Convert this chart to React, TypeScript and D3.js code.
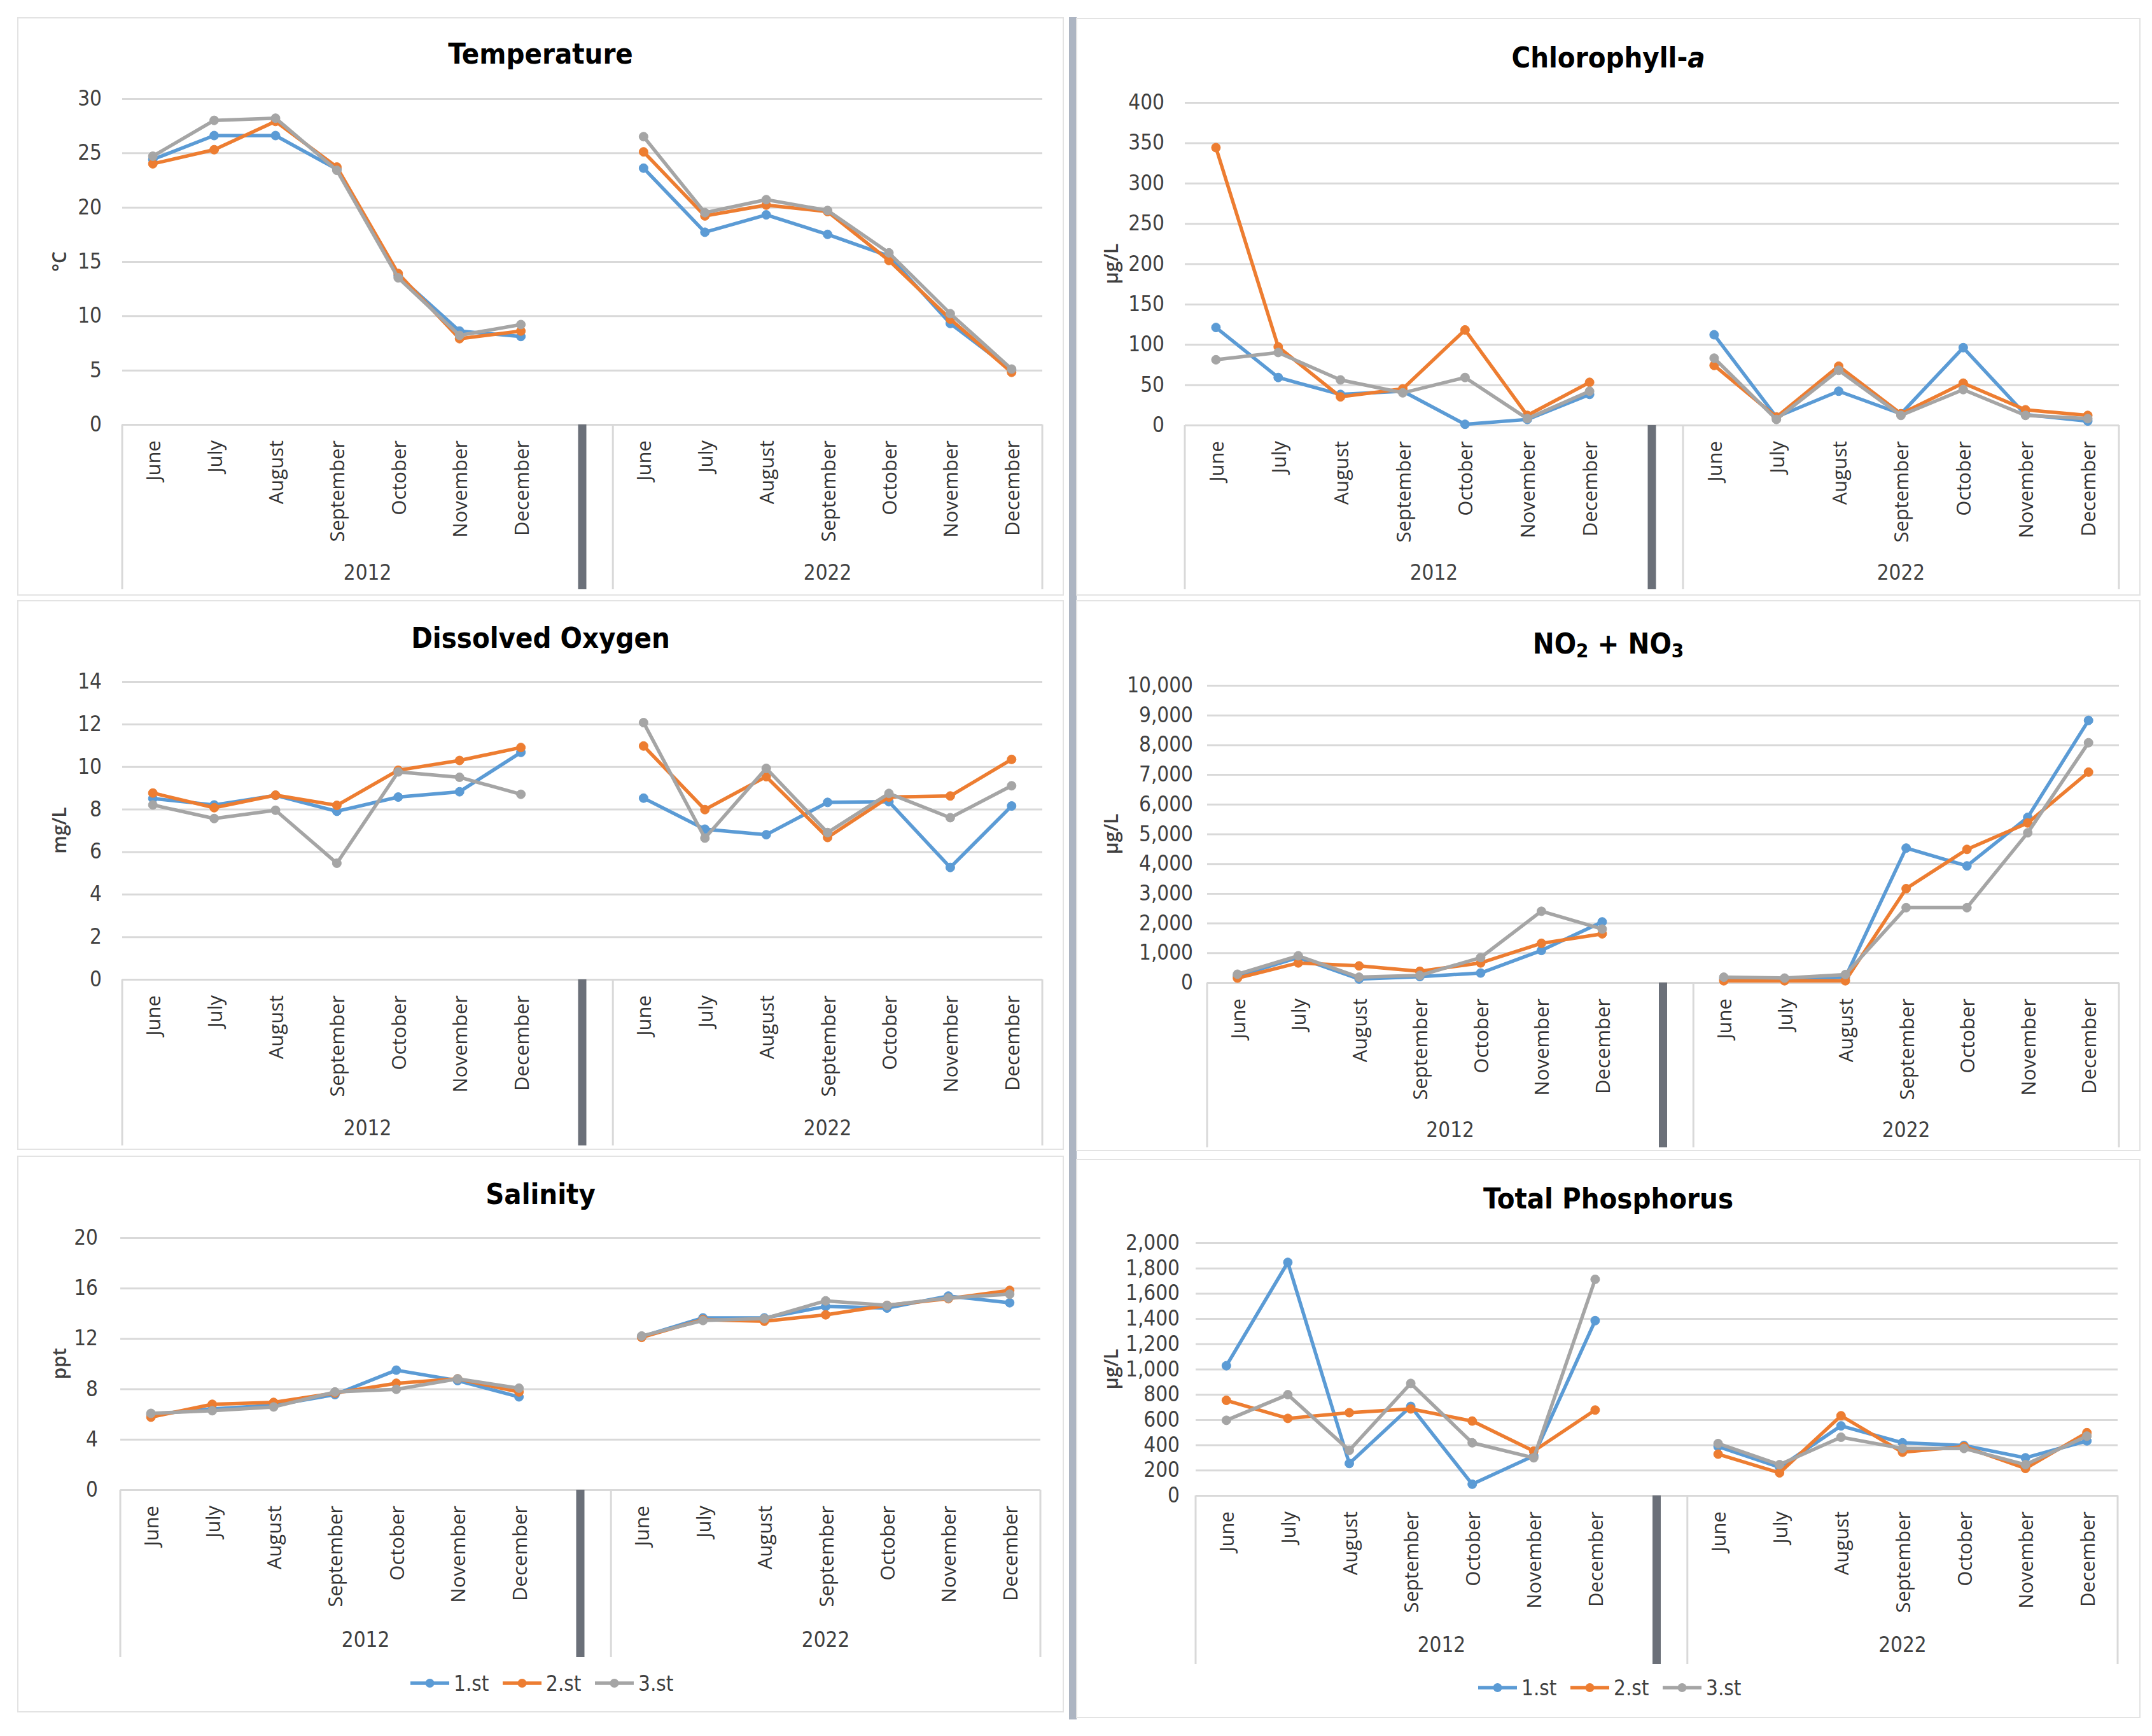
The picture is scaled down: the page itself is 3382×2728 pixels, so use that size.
import * as d3 from "d3";
import { useRef, useEffect } from "react";

const months = ["June", "July", "August", "September", "October", "November", "December"];
const years = ["2012", "2022"];
const stations = ["1.st", "2.st", "3.st"];
const colors = ["#5b9bd5", "#ed7d31", "#a5a5a5"];

// each series: 2012 June..December, then 2022 June..December
const temp1 = [24.4, 26.6, 26.6, 23.5, 13.7, 8.6, 8.1, 23.6, 17.7, 19.3, 17.5, 15.5, 9.3, 5.0];
const temp2 = [24.0, 25.3, 27.9, 23.7, 13.9, 7.9, 8.6, 25.1, 19.2, 20.2, 19.6, 15.1, 9.7, 4.8];
const temp3 = [24.7, 28.0, 28.2, 23.4, 13.5, 8.2, 9.2, 26.5, 19.5, 20.7, 19.7, 15.8, 10.2, 5.1];

const chl1 = [121, 59, 38, 42, 1, 7, 38, 112, 10, 42, 14, 96, 13, 5];
const chl2 = [344, 97, 35, 45, 118, 12, 53, 74, 10, 73, 14, 52, 19, 12];
const chl3 = [81, 90, 56, 40, 59, 8, 42, 83, 7, 68, 12, 44, 12, 8];

const do1 = [8.5, 8.2, 8.65, 7.9, 8.57, 8.82, 10.67, 8.52, 7.06, 6.8, 8.32, 8.35, 5.26, 8.15];
const do2 = [8.76, 8.07, 8.66, 8.18, 9.83, 10.29, 10.9, 10.97, 7.98, 9.53, 6.67, 8.57, 8.62, 10.34];
const do3 = [8.2, 7.56, 7.95, 5.46, 9.75, 9.5, 8.7, 12.07, 6.64, 9.92, 6.9, 8.74, 7.6, 9.1];

const no1 = [220, 840, 120, 200, 320, 1080, 2040, 120, 100, 180, 4525, 3925, 5560, 8820];
const no2 = [150, 660, 560, 380, 660, 1320, 1640, 60, 60, 60, 3160, 4480, 5370, 7080];
const no3 = [280, 900, 180, 240, 840, 2400, 1800, 180, 150, 270, 2520, 2520, 5040, 8070];

const sal1 = [5.97, 6.42, 6.7, 7.55, 9.49, 8.66, 7.37, 12.15, 13.64, 13.64, 14.54, 14.42, 15.37, 14.84];
const sal2 = [5.76, 6.78, 6.93, 7.67, 8.45, 8.8, 7.76, 12.09, 13.5, 13.37, 13.88, 14.63, 15.16, 15.82];
const sal3 = [6.06, 6.27, 6.57, 7.76, 7.97, 8.8, 8.06, 12.2, 13.43, 13.58, 14.99, 14.63, 15.22, 15.52];

const tp1 = [1027, 1845, 253, 705, 89, 313, 1384, 387, 223, 551, 417, 396, 298, 432];
const tp2 = [753, 610, 655, 685, 589, 351, 676, 327, 179, 631, 342, 387, 214, 497];
const tp3 = [595, 798, 357, 887, 417, 298, 1711, 411, 244, 461, 372, 372, 244, 470];

const W = 3382;
const H = 2728;
const narrow = "'Liberation Sans Narrow', 'DejaVu Sans Condensed', 'Liberation Sans', sans-serif";
const sans = "'Open Sans', 'Noto Sans', sans-serif";
const grid = "#d9d9d9";
const small = 33;

const panels = [
  { title: [{ t: "Temperature" }], unit: "°C", max: 30, step: 5, comma: false, pad: 32,
    series: [temp1, temp2, temp3], box: [28, 28, 1671, 935], plot: [192, 1638, 155, 667],
    titleY: 84, yearY: 899, groupBottom: 926, unitX: 92, legendY: null },
  { title: [{ t: "Dissolved Oxygen" }], unit: "mg/L", max: 14, step: 2, comma: false, pad: 32,
    series: [do1, do2, do3], box: [28, 944, 1671, 1806], plot: [192, 1638, 1071, 1539],
    titleY: 1002, yearY: 1772, groupBottom: 1800, unitX: 92, legendY: null },
  { title: [{ t: "Salinity" }], unit: "ppt", max: 20, step: 4, comma: false, pad: 35,
    series: [sal1, sal2, sal3], box: [28, 1817, 1671, 2690], plot: [189, 1635, 1945, 2341],
    titleY: 1876, yearY: 2576, groupBottom: 2604, unitX: 92, legendY: 2645 },
  { title: [{ t: "Chlorophyll-" }, { t: "a", it: true }], unit: "µg/L", max: 400, step: 50, comma: false, pad: 32,
    series: [chl1, chl2, chl3], box: [1692, 29, 3363, 935], plot: [1862, 3330, 161, 668],
    titleY: 90, yearY: 899, groupBottom: 926, unitX: 1745, legendY: null },
  { title: [{ t: "NO" }, { t: "2", sub: true }, { t: " + NO" }, { t: "3", sub: true }], unit: "µg/L", max: 10000, step: 1000, comma: true, pad: 22,
    series: [no1, no2, no3], box: [1692, 944, 3363, 1808], plot: [1897, 3330, 1077, 1544],
    titleY: 1011, yearY: 1775, groupBottom: 1803, unitX: 1745, legendY: null },
  { title: [{ t: "Total Phosphorus" }], unit: "µg/L", max: 2000, step: 200, comma: true, pad: 25,
    series: [tp1, tp2, tp3], box: [1692, 1822, 3363, 2699], plot: [1879, 3328, 1953, 2350],
    titleY: 1883, yearY: 2584, groupBottom: 2615, unitX: 1745, legendY: 2652 },
];

export default function App() {
  const svgRef = useRef(null);

  useEffect(() => {
    const svg = d3.select(svgRef.current);
    svg.selectAll("*").remove();
    svg.attr("width", W).attr("height", H).attr("viewBox", [0, 0, W, H]);

    svg.append("rect").attr("width", W).attr("height", H).attr("fill", "white");

    // column separator
    svg.append("rect")
      .attr("x", 1680).attr("y", 27).attr("width", 12).attr("height", 2675)
      .attr("fill", "#adb5c2");

    const keys = [
      ...months.map(m => years[0] + " " + m),
      "gap",
      ...months.map(m => years[1] + " " + m),
    ];

    panels.forEach(p => {
      const g = svg.append("g");
      const [bx0, by0, bx1, by1] = p.box;
      const [x0, x1, yTop, yBot] = p.plot;

      g.append("rect")
        .attr("x", bx0).attr("y", by0)
        .attr("width", bx1 - bx0).attr("height", by1 - by0)
        .attr("fill", "none").attr("stroke", "#e3e3e3").attr("stroke-width", 2);

      // title
      const title = g.append("text")
        .attr("x", (bx0 + bx1) / 2).attr("y", p.titleY)
        .attr("text-anchor", "middle").attr("dominant-baseline", "central")
        .attr("font-family", narrow).attr("font-weight", "bold")
        .attr("font-size", 45).attr("fill", "#000");
      p.title.forEach((part, i) => {
        const ts = title.append("tspan").text(part.t);
        if (part.it) ts.attr("font-style", "italic");
        if (part.sub) ts.attr("font-size", 31).attr("dy", 11);
        else if (i > 0 && p.title[i - 1].sub) ts.attr("dy", -11);
      });

      const x = d3.scaleBand().domain(keys).range([x0, x1]).padding(0);
      const bw = x.bandwidth();
      const cx = k => x(k) + bw / 2;
      const y = d3.scaleLinear().domain([0, p.max]).range([yBot, yTop]);
      const ticks = d3.range(0, p.max + p.step / 2, p.step);
      const fmt = p.comma ? d3.format(",") : d3.format("d");

      // y axis
      g.append("g")
        .attr("transform", `translate(${x0},0)`)
        .call(d3.axisLeft(y).tickValues(ticks).tickFormat(fmt).tickSize(0).tickPadding(p.pad))
        .call(a => a.select(".domain").remove())
        .call(a => a.selectAll(".tick text")
          .attr("font-family", narrow).attr("font-size", small).attr("fill", "#404040"))
        .call(a => a.selectAll(".tick line").clone()
          .attr("x2", x1 - x0).attr("stroke", grid).attr("stroke-width", 3));

      // unit title
      g.append("text")
        .attr("transform", `translate(${p.unitX},${(yTop + yBot) / 2}) rotate(-90)`)
        .attr("text-anchor", "middle").attr("dominant-baseline", "central")
        .attr("font-family", sans).attr("font-weight", 600).attr("font-size", 30)
        .attr("fill", "#404040").text(p.unit);

      // month labels
      g.append("g").selectAll("text")
        .data(keys.filter(k => k !== "gap"))
        .join("text")
        .attr("transform", k => `translate(${cx(k)},${yBot + 25}) rotate(-90)`)
        .attr("text-anchor", "end").attr("dominant-baseline", "central")
        .attr("font-family", sans).attr("font-size", 31).attr("fill", "#333")
        .text(k => k.split(" ")[1]);

      // group boxes
      const split = x("gap") + bw;
      [x0, split, x1].forEach(v => {
        g.append("line")
          .attr("x1", v).attr("x2", v).attr("y1", yBot).attr("y2", p.groupBottom)
          .attr("stroke", grid).attr("stroke-width", 3);
      });
      g.append("line")
        .attr("x1", cx("gap")).attr("x2", cx("gap"))
        .attr("y1", yBot).attr("y2", p.groupBottom)
        .attr("stroke", "#6b7079").attr("stroke-width", 13);

      // year labels
      [[x0, split], [split, x1]].forEach(([a, b], i) => {
        g.append("text")
          .attr("x", (a + b) / 2).attr("y", p.yearY)
          .attr("text-anchor", "middle").attr("dominant-baseline", "central")
          .attr("font-family", narrow).attr("font-size", small).attr("fill", "#404040")
          .text(years[i]);
      });

      // series
      const line = d3.line().x(d => cx(d.k)).y(d => y(d.v));
      p.series.forEach((vals, si) => {
        const sg = g.append("g").attr("fill", colors[si]).attr("stroke", colors[si]);
        years.forEach((yr, yi) => {
          const pts = months.map((m, mi) => ({ k: yr + " " + m, v: vals[yi * 7 + mi] }));
          sg.append("path").datum(pts)
            .attr("d", line).attr("fill", "none")
            .attr("stroke-width", 5.5).attr("stroke-linejoin", "round");
          sg.selectAll(null).data(pts).join("circle")
            .attr("cx", d => cx(d.k)).attr("cy", d => y(d.v)).attr("r", 7)
            .attr("stroke-width", 1);
        });
      });

      // legend
      if (p.legendY !== null) {
        const itemW = 145;
        const lx = (bx0 + bx1) / 2 - (itemW * 3 - 26) / 2;
        stations.forEach((s, i) => {
          const ix = lx + i * itemW;
          g.append("line")
            .attr("x1", ix).attr("x2", ix + 61)
            .attr("y1", p.legendY).attr("y2", p.legendY)
            .attr("stroke", colors[i]).attr("stroke-width", 5.5);
          g.append("circle")
            .attr("cx", ix + 30.5).attr("cy", p.legendY).attr("r", 7)
            .attr("fill", colors[i]);
          g.append("text")
            .attr("x", ix + 68).attr("y", p.legendY)
            .attr("dominant-baseline", "central")
            .attr("font-family", narrow).attr("font-size", small).attr("fill", "#404040")
            .text(s);
        });
      }
    });
  }, []);

  return (
    <svg ref={svgRef} style={{ display: "block", position: "absolute", left: 0, top: 0 }} />
  );
}
